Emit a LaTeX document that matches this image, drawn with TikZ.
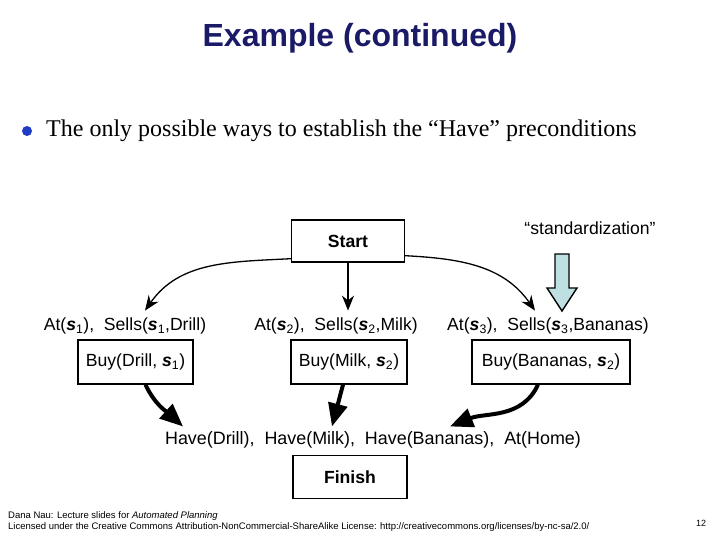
\documentclass[tikz,border=0pt]{standalone}
\usepackage{fontspec}
\setmainfont{Liberation Serif}
\setsansfont{Liberation Sans}
\usetikzlibrary{arrows.meta,positioning}

\definecolor{titleblue}{RGB}{26,26,102}
\definecolor{bulletblue}{RGB}{30,60,200}
\definecolor{stdcyan}{RGB}{190,224,227}

\newcommand{\svar}[1]{\textbf{\textit{s}}\textsubscript{#1}}

\tikzset{
	every label/.style={font=\sffamily\fontsize{17.6}{20}\selectfont, inner sep=2pt},
	every box/.style={draw, line width=1.4pt, font=\sffamily\fontsize{17.6}{20}\selectfont, minimum height=44pt, inner xsep=7pt},
	thin link/.style={line width=1.3pt, -{Stealth[length=15pt,width=12pt]}},
	thick link/.style={line width=4pt, -{Triangle[length=23pt,width=19pt]}}
}

\begin{document}
\begin{tikzpicture}[x=1pt, y=-1pt]
\useasboundingbox (0,0) rectangle (720,540);

\node [font=\sffamily\bfseries\fontsize{32}{36}\selectfont, text=titleblue] (title) at (360,38) {Example (continued)};

\node [circle, fill=bulletblue, inner sep=0pt, minimum size=10pt] (bullet) at (27,131) {};
\node [anchor=west, font=\fontsize{24}{28}\selectfont, inner sep=0pt] (intro) at (46,131) {The only possible ways to establish the “Have” preconditions};

\node [every label/.try] (std) at (590,228) {“standardization”};

\node [every box/.try, font=\sffamily\bfseries\fontsize{17.6}{20}\selectfont, minimum width=113pt, minimum height=42pt] (start) at (348,241) {Start};

%preconditions of the three buy actions
\foreach \item/\s/\x [count=\i] in {Drill/1/125, Milk/2/336, Bananas/3/548}
	\node [every label/.try] (pre-\i) at (\x,326) {At(\svar{\s}), \ Sells(\svar{\s},\item)};

\foreach \item/\s/\x/\w [count=\i] in {Drill/1/135.5/115, Milk/2/349/116, Bananas/2/551/158}
	\node [every box/.try, minimum width=\w pt] (buy-\i) at (\x,362) {Buy(\item, \svar{\s})};

\node [every label/.try, font=\sffamily\fontsize{17.9}{20}\selectfont] (have) at (373,440) {Have(Drill), \ Have(Milk), \ Have(Bananas), \ At(Home)};

\node [every box/.try, font=\sffamily\bfseries\fontsize{17.6}{20}\selectfont, minimum width=114pt, minimum height=43pt] (finish) at (350,477) {Finish};

%drawing part
\draw [thin link] ([yshift=4pt]start.south west) to[out=183,in=55] ([xshift=20pt,yshift=5pt]pre-1.north);
\draw [thin link] (start.south) -- ([yshift=5pt]start.south |- pre-2.north);
\draw [thin link] ([yshift=7pt]start.south east) to[out=-3,in=125] ([xshift=-13pt,yshift=5pt]pre-3.north);

\draw [thick link] ([xshift=10pt]buy-1.south) to[out=-65,in=138] ([xshift=-190pt,yshift=3pt]have.north);
\draw [thick link] ([xshift=-6pt]buy-2.south) -- ([xshift=-41pt,yshift=3pt]have.north);
\draw [thick link] ([xshift=-13pt]buy-3.south) to[out=-115,in=22] ([xshift=77pt,yshift=3pt]have.north);

%standardization arrow
\coordinate (std-tip) at (562,311);
\draw [line width=1.4pt, fill=stdcyan, line join=miter]
	([shift={(-7,-57)}]std-tip) -- ([shift={(7,-57)}]std-tip) -- ([shift={(7,-23)}]std-tip)
	-- ([shift={(15,-23)}]std-tip) -- (std-tip) -- ([shift={(-15,-23)}]std-tip)
	-- ([shift={(-7,-23)}]std-tip) -- cycle;

%footer
\node [anchor=west, align=left, font=\sffamily\fontsize{9.5}{11}\selectfont, inner sep=0pt] (credits) at (8,521.5)
	{Dana Nau: Lecture slides for \textit{Automated Planning}\\
	 Licensed under the Creative Commons Attribution-NonCommercial-ShareAlike License: http://creativecommons.org/licenses/by-nc-sa/2.0/};
\node [font=\sffamily\fontsize{9}{11}\selectfont, inner sep=0pt] (page) at (701,523) {12};

\end{tikzpicture}
\end{document}
